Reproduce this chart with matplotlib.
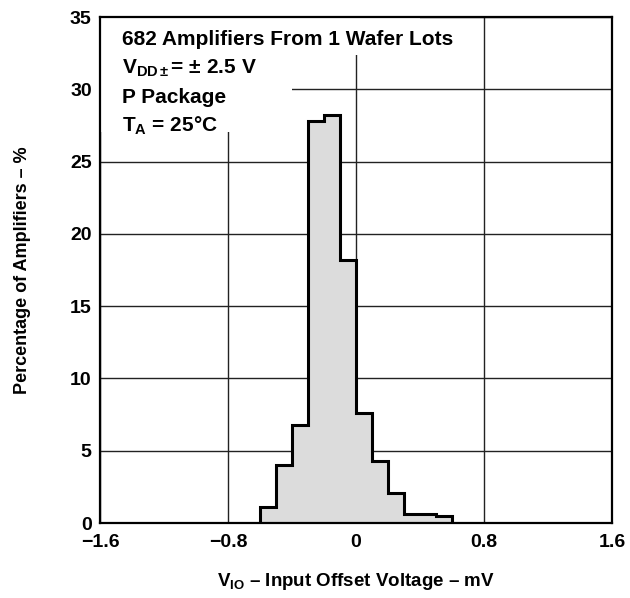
import matplotlib
matplotlib.use("Agg")
import matplotlib.pyplot as plt
from matplotlib.patches import Rectangle

plt.rcParams['font.family'] = ['Liberation Sans', 'DejaVu Sans']
plt.rcParams['font.weight'] = 'bold'
plt.rcParams['mathtext.fontset'] = 'custom'
plt.rcParams['mathtext.rm'] = 'Liberation Sans:bold'
plt.rcParams['mathtext.it'] = 'Liberation Sans:bold'
plt.rcParams['mathtext.bf'] = 'Liberation Sans:bold'

bin_edges = [-0.6, -0.5, -0.4, -0.3, -0.2, -0.1, 0.0, 0.1, 0.2, 0.3, 0.4, 0.5, 0.6]
percentages = [1.1, 4.0, 6.8, 27.8, 28.2, 18.2, 7.6, 4.3, 2.1, 0.6, 0.6, 0.45]
x_ticks = [-1.6, -0.8, 0, 0.8, 1.6]
x_tick_labels = ['\u22121.6', '\u22120.8', '0', '0.8', '1.6']
y_ticks = [0, 5, 10, 15, 20, 25, 30, 35]

fig = plt.figure(figsize=(6.30, 5.98), dpi=100)
ax = fig.add_axes([100/630, 75/598, 512/630, 506/598])

ax.set_xlim(-1.6, 1.6)
ax.set_ylim(0, 35)
ax.set_xticks(x_ticks)
ax.set_xticklabels(x_tick_labels)
ax.set_yticks(y_ticks)
ax.tick_params(axis='x', length=0, labelsize=14, pad=8)
ax.tick_params(axis='y', length=0, labelsize=14, pad=6)
for lab in ax.get_xticklabels() + ax.get_yticklabels():
    lab.set_fontweight('bold')

ax.grid(True, color='#222222', linewidth=1.0, zorder=0)
ax.set_axisbelow(True)
for s in ax.spines.values():
    s.set_linewidth(1.6)
    s.set_color('black')
    s.set_zorder(5)

ax.stairs(percentages, bin_edges, fill=True, facecolor='#dcdcdc', edgecolor='none', zorder=2)
ax.stairs(percentages, bin_edges, baseline=0, fill=False, color='black', linewidth=2.2, zorder=3)

# white masks behind the annotation text
ax.add_patch(Rectangle((-1.6, 32.4), 2.0, 2.6, facecolor='white', edgecolor='none', zorder=1.5))
ax.add_patch(Rectangle((-1.6, 27.05), 1.2, 5.6, facecolor='white', edgecolor='none', zorder=1.5))

tx = 0.043
fs = 15
ax.text(tx, 0.955, '682 Amplifiers From 1 Wafer Lots', transform=ax.transAxes,
        fontsize=fs, fontweight='bold', va='center', ha='left', zorder=4)
ax.text(tx, 0.898, '$\\mathregular{V_{DD\\pm}}$= \u00b1 2.5 V', transform=ax.transAxes,
        fontsize=fs, fontweight='bold', va='center', ha='left', zorder=4)
ax.text(tx, 0.841, 'P Package', transform=ax.transAxes,
        fontsize=fs, fontweight='bold', va='center', ha='left', zorder=4)
ax.text(tx, 0.784, '$\\mathregular{T_A}$ = 25\u00b0C', transform=ax.transAxes,
        fontsize=fs, fontweight='bold', va='center', ha='left', zorder=4)

ax.set_xlabel('$\\mathregular{V_{IO}}$ \u2013 Input Offset Voltage \u2013 mV',
              fontsize=13.5, fontweight='bold', labelpad=14)
ax.set_ylabel('Percentage of Amplifiers \u2013 %', fontsize=13, fontweight='bold', labelpad=28)

fig.savefig('out.png', dpi=100)
